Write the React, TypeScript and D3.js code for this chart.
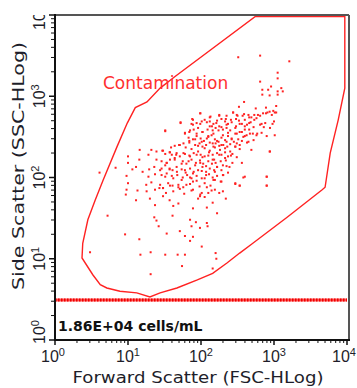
import React from 'react';
import * as d3 from 'd3';

const W = 357;
const H = 388;

// gated events as [log10 FSC, log10 SSC]
const events: [number, number][] = [
  [2.59, 2.93], [2.52, 2.87], [2.75, 2.85], [2.89, 2.86], [3.03, 2.88], [2.99, 2.82], [1.99, 2.79], [2.13, 2.75],
  [2.25, 2.77], [2.35, 2.76], [2.44, 2.8], [2.49, 2.77], [2.57, 2.76], [2.65, 2.77], [2.69, 2.74], [2.78, 2.77],
  [2.85, 2.79], [2.91, 2.8], [2.97, 2.77], [3.03, 2.8], [1.72, 2.68], [1.88, 2.72], [1.87, 2.66], [1.94, 2.67],
  [2.01, 2.69], [2.05, 2.71], [2.12, 2.69], [2.17, 2.66], [2.22, 2.7], [2.28, 2.72], [2.33, 2.69], [2.37, 2.66],
  [2.41, 2.71], [2.48, 2.72], [2.52, 2.7], [2.56, 2.66], [2.6, 2.71], [2.63, 2.65], [2.68, 2.68], [2.73, 2.71],
  [2.76, 2.73], [2.83, 2.66], [2.86, 2.62], [2.945, 2.61], [3.0, 2.69], [1.51, 2.57], [1.78, 2.54], [1.84, 2.56],
  [1.9, 2.59], [1.96, 2.61], [2.02, 2.56], [2.09, 2.59], [2.12, 2.63], [2.16, 2.58], [2.2, 2.61], [2.25, 2.63],
  [2.3, 2.59], [2.35, 2.61], [2.4, 2.58], [2.47, 2.61], [2.49, 2.54], [2.56, 2.56], [2.6, 2.59], [2.66, 2.59],
  [2.71, 2.54], [2.77, 2.54], [1.83, 2.49], [1.89, 2.47], [1.94, 2.51], [1.995, 2.48], [2.04, 2.45], [2.1, 2.5],
  [2.145, 2.52], [2.19, 2.47], [2.24, 2.44], [2.28, 2.49], [2.33, 2.46], [2.37, 2.51], [2.42, 2.48], [2.45, 2.44],
  [2.51, 2.47], [2.58, 2.5], [2.625, 2.52], [2.65, 2.44], [1.59, 2.37], [1.64, 2.39], [1.7, 2.4], [1.76, 2.42],
  [1.84, 2.43], [1.92, 2.4], [1.98, 2.42], [2.02, 2.38], [2.07, 2.4], [2.12, 2.43], [2.17, 2.38], [2.2, 2.42],
  [2.25, 2.39], [2.305, 2.4], [2.36, 2.38], [2.4, 2.41], [2.47, 2.38], [2.53, 2.4], [2.69, 2.34], [2.945, 2.32],
  [1.16, 2.34], [1.28, 2.28], [1.32, 2.34], [1.39, 2.32], [1.47, 2.33], [1.51, 2.29], [1.57, 2.31], [1.6, 2.28],
  [1.666, 2.3], [1.71, 2.26], [1.78, 2.29], [1.84, 2.27], [1.9, 2.3], [1.96, 2.32], [1.995, 2.28], [2.05, 2.26],
  [2.11, 2.31], [2.16, 2.28], [2.22, 2.3], [2.28, 2.28], [2.33, 2.31], [2.37, 2.26], [2.43, 2.29], [1.155, 2.22],
  [1.39, 2.22], [1.46, 2.2], [1.53, 2.18], [1.575, 2.22], [1.64, 2.24], [1.75, 2.2], [1.8, 2.17], [1.87, 2.22],
  [1.93, 2.18], [1.986, 2.21], [2.03, 2.17], [2.1, 2.2], [2.16, 2.22], [2.2, 2.18], [2.27, 2.2], [2.34, 2.21],
  [2.43, 2.18], [1.06, 2.1], [1.11, 2.13], [1.2, 2.07], [1.29, 2.1], [1.36, 2.13], [1.44, 2.09], [1.51, 2.15],
  [1.57, 2.11], [1.61, 2.09], [1.666, 2.13], [1.735, 2.1], [1.79, 2.06], [1.85, 2.11], [1.9, 2.07], [1.96, 2.09],
  [2.02, 2.13], [2.07, 2.07], [2.12, 2.11], [2.18, 2.09], [2.22, 2.13], [2.28, 2.09], [2.35, 2.14], [1.28, 2.01],
  [1.37, 2.04], [1.46, 2.03], [1.53, 2.05], [1.6, 2.02], [1.675, 2.03], [1.75, 2.0], [1.81, 2.03], [1.87, 1.99],
  [1.94, 2.02], [2.01, 1.99], [2.07, 2.03], [2.16, 2.0], [2.22, 2.02], [2.305, 2.03], [2.58, 2.0], [2.9, 2.01],
  [1.25, 1.91], [1.32, 1.94], [1.43, 1.87], [1.48, 1.87], [1.55, 1.93], [1.61, 1.9], [1.69, 1.91], [1.757, 1.88],
  [1.85, 1.92], [1.89, 1.95], [1.98, 1.89], [2.05, 1.93], [2.13, 1.9], [2.19, 1.97], [2.28, 1.95], [2.47, 1.92],
  [2.53, 1.9], [2.9, 1.9], [1.13, 1.84], [1.255, 1.83], [1.37, 1.85], [1.52, 1.81], [1.62, 1.83], [1.71, 1.86],
  [1.77, 1.8], [1.87, 1.84], [2.01, 1.81], [2.145, 1.84], [2.25, 1.81], [1.11, 1.72], [1.3, 1.74], [1.48, 1.77],
  [1.57, 1.72], [1.986, 1.77], [2.05, 1.76], [2.16, 1.69], [2.34, 1.74], [1.37, 1.66], [1.62, 1.65], [1.69, 1.68],
  [1.89, 1.62], [2.08, 1.63], [2.22, 1.56], [1.36, 1.51], [1.39, 1.47], [1.61, 1.53], [1.85, 1.48], [1.93, 1.45],
  [2.08, 1.44], [2.09, 1.4], [1.42, 1.4], [1.53, 1.31], [1.71, 1.34], [1.87, 1.4], [1.986, 1.38], [1.155, 1.24],
  [1.78, 1.28], [1.89, 1.27], [1.85, 1.22], [2.01, 1.15],
  // dense core
  [1.99, 2.79], [2.12, 2.74], [2.25, 2.76], [2.34, 2.72], [2.44, 2.8], [2.5, 2.76], [2.59, 2.78], [2.66, 2.74],
  [2.73, 2.77], [2.81, 2.76], [2.89, 2.79], [2.94, 2.81], [3.01, 2.8], [1.72, 2.67], [1.89, 2.71], [1.89, 2.65],
  [1.99, 2.66], [2.08, 2.68], [2.15, 2.63], [2.21, 2.67], [2.28, 2.62], [2.35, 2.65], [2.42, 2.68], [2.48, 2.63],
  [2.53, 2.66], [2.6, 2.63], [2.66, 2.67], [2.72, 2.62], [2.81, 2.65], [2.88, 2.67], [2.98, 2.66], [1.51, 2.58],
  [1.78, 2.55], [1.85, 2.58], [1.94, 2.54], [2.02, 2.56], [2.1, 2.51], [2.17, 2.54], [2.24, 2.58], [2.3, 2.52],
  [2.37, 2.55], [2.47, 2.54], [2.53, 2.56], [2.6, 2.51], [2.67, 2.54], [2.76, 2.52], [2.83, 2.55], [2.9, 2.51],
  [3.01, 2.52], [1.84, 2.45], [1.92, 2.47], [2.01, 2.44], [2.08, 2.48], [2.16, 2.42], [2.22, 2.45], [2.28, 2.4],
  [2.35, 2.44], [2.42, 2.47], [2.49, 2.42], [2.56, 2.45], [2.63, 2.43], [2.72, 2.46], [1.71, 2.4], [1.79, 2.37],
  [1.87, 2.35], [1.96, 2.39], [2.05, 2.36], [2.12, 2.33], [2.19, 2.37], [2.26, 2.34], [2.33, 2.36], [2.4, 2.32],
  [2.47, 2.38], [2.53, 2.35], [2.94, 2.32], [1.48, 2.33], [1.575, 2.31], [1.66, 2.28], [1.76, 2.3], [1.85, 2.26],
  [1.94, 2.28], [2.02, 2.25], [2.1, 2.27], [2.18, 2.22], [2.25, 2.28], [2.33, 2.24], [2.41, 2.27], [2.49, 2.25],
  [1.53, 2.18], [1.64, 2.22], [1.735, 2.17], [1.83, 2.2], [1.92, 2.15], [1.99, 2.18], [2.07, 2.14], [2.15, 2.17],
  [2.22, 2.13], [2.3, 2.15], [2.39, 2.13], [2.56, 2.18], [1.46, 2.11], [1.57, 2.1], [1.67, 2.07], [1.78, 2.09],
  [1.89, 2.05], [2.01, 2.08], [2.11, 2.04], [2.19, 2.07], [2.3, 2.03], [2.37, 2.06], [2.9, 2.01], [1.51, 2.01],
  [1.62, 1.99], [1.735, 1.97], [1.85, 2.0], [1.94, 1.96], [2.05, 1.99], [2.17, 1.97], [2.27, 1.95], [2.47, 1.93],
  [2.6, 2.01], [1.44, 1.91], [1.575, 1.9], [1.69, 1.88], [1.8, 1.91], [1.89, 1.85], [2.08, 1.88], [2.19, 1.85],
  [2.3, 1.83], [2.53, 1.9], [2.9, 1.9], [1.48, 1.87], [1.99, 1.79], [2.1, 1.81], [1.96, 1.74],
  // lower left
  [0.61, 2.06], [0.83, 2.12], [1.0, 2.26], [1.0, 2.18], [0.98, 2.02], [1.0, 1.93], [0.98, 1.85], [0.97, 1.79],
  [0.72, 1.53], [0.96, 1.3], [0.48, 1.08], [1.31, 1.08], [1.17, 1.05], [1.51, 1.05], [1.68, 1.05], [1.78, 1.05],
  [1.74, 0.91], [1.31, 0.81], [2.2, 1.07], [2.21, 1.0], [2.16, 0.88],
  // upper right
  [2.51, 3.48], [2.81, 3.5], [3.21, 3.43], [3.05, 3.29], [3.05, 3.22], [2.81, 3.18], [2.96, 3.12], [2.84, 3.08],
  [2.92, 3.08], [3.1, 3.1], [3.05, 3.06], [3.12, 3.06], [2.84, 3.02], [2.94, 3.01], [3.05, 3.02],
];

// gate outline, [log10 FSC, log10 SSC]
const gate: [number, number][] = [
  [2.74, 3.98], [3.97, 3.98], [3.97, 3.1], [3.88, 2.71], [3.77, 2.3], [3.7, 1.88], [3.66, 1.85], [3.18, 1.51],
  [2.71, 1.19], [2.53, 1.07], [2.36, 0.95], [2.16, 0.82], [1.95, 0.74], [1.67, 0.64], [1.44, 0.58], [1.3, 0.53],
  [1.12, 0.58], [0.89, 0.6], [0.71, 0.64], [0.62, 0.68], [0.52, 0.8], [0.37, 1.01], [0.38, 1.19], [0.45, 1.48],
  [0.55, 1.72], [0.66, 1.97], [0.85, 2.38], [0.99, 2.67], [1.1, 2.86], [1.26, 2.93], [1.44, 3.1], [1.64, 3.24],
];

const decades = [0, 1, 2, 3, 4];
const threshold = 3.1;
const gateName = 'Contamination';
const countLabel = '1.86E+04 cells/mL';
const xTitle = 'Forward Scatter (FSC-HLog)';
const yTitle = 'Side Scatter (SSC-HLog)';

const RED = '#ff2222';
const INK = '#1e1e2a';

export default function App() {
  const x = d3.scaleLog().domain([1, 1e4]).range([55, 347]);
  const y = d3.scaleLog().domain([1, 1e4]).range([340, 15]);

  const minor = d3.range(0, 4).flatMap(k => d3.range(2, 10).map(m => m * Math.pow(10, k)));

  const gatePath = d3.line<[number, number]>()
    .x(d => x(Math.pow(10, d[0])))
    .y(d => y(Math.pow(10, d[1])))
    .curve(d3.curveLinearClosed)(gate) || '';

  const left = x(1);
  const bottom = y(1);
  const top = y(1e4);
  const right = x(1e4) + 2;

  return (
    <svg width={W} height={H} style={{ position: 'absolute', left: 0, top: 0, background: '#fff' }}>
      <defs>
        <clipPath id="ylab">
          <rect x={0} y={15} width={60} height={H} />
        </clipPath>
      </defs>

      {/* events */}
      {events.map((d, i) => (
        <rect key={i} x={x(Math.pow(10, d[0])) - 1} y={y(Math.pow(10, d[1])) - 1}
          width={2} height={2} fill={RED} />
      ))}

      {/* gate */}
      <path d={gatePath} fill="none" stroke={RED} strokeWidth={1.4} />
      <text x={103} y={89} fontFamily="DejaVu Sans" fontSize={17} fill="#ff3030">{gateName}</text>

      {/* threshold */}
      <line x1={left} x2={x(1e4)} y1={y(threshold)} y2={y(threshold)} stroke="#ff5555" strokeWidth={3} />
      <line x1={left} x2={x(1e4)} y1={y(threshold)} y2={y(threshold)} stroke="#ee0000" strokeWidth={3} strokeDasharray="1.5,1.5" />

      <text x={58} y={331} fontFamily="DejaVu Sans" fontWeight="bold" fontSize={14} fill="#111">{countLabel}</text>

      {/* frame */}
      <line x1={left} x2={right} y1={top} y2={top} stroke="#555" strokeWidth={2} />
      <line x1={right} x2={right} y1={top} y2={bottom} stroke="#555" strokeWidth={2} />
      <line x1={left} x2={left} y1={top - 1} y2={bottom + 1} stroke="#111" strokeWidth={2} />
      <line x1={left - 1} x2={right + 1} y1={bottom} y2={bottom} stroke="#111" strokeWidth={2} />

      {/* x ticks */}
      {minor.map(v => (
        <line key={'xm' + v} x1={x(v)} x2={x(v)} y1={bottom} y2={bottom + 3} stroke="#111" strokeWidth={1} />
      ))}
      {decades.map(k => (
        <line key={'xM' + k} x1={x(Math.pow(10, k))} x2={x(Math.pow(10, k))} y1={bottom} y2={bottom + 5} stroke="#111" strokeWidth={1.5} />
      ))}
      {decades.map(k => (
        <text key={'xl' + k} x={x(Math.pow(10, k)) - (k === 0 ? 2 : k === 4 ? 3 : 0)} y={362} textAnchor="middle"
          fontFamily="Liberation Sans" fontSize={16} fill={INK}>
          10<tspan fontSize={11} dy={-6}>{k}</tspan>
        </text>
      ))}

      {/* y ticks */}
      {minor.map(v => (
        <line key={'ym' + v} x1={left} x2={left - 4} y1={y(v)} y2={y(v)} stroke="#111" strokeWidth={1} />
      ))}
      {decades.map(k => (
        <line key={'yM' + k} x1={left} x2={left - 6} y1={y(Math.pow(10, k))} y2={y(Math.pow(10, k))} stroke="#111" strokeWidth={1.5} />
      ))}
      <g clipPath="url(#ylab)">
        {decades.map(k => {
          const cy = y(Math.pow(10, k)) + (k === 0 ? -8 : k === 4 ? 3 : 0);
          return (
            <text key={'yl' + k} transform={`translate(45,${cy}) rotate(-90)`} textAnchor="middle"
              fontFamily="Liberation Sans" fontSize={16} fill={INK}>
              10<tspan fontSize={11} dy={-6}>{k}</tspan>
            </text>
          );
        })}
      </g>

      {/* axis titles */}
      <text x={198} y={383} textAnchor="middle" fontFamily="DejaVu Sans" fontSize={16}
        textLength={251} lengthAdjust="spacingAndGlyphs" fill={INK}>{xTitle}</text>
      <text transform="translate(24,166) rotate(-90)" textAnchor="middle" fontFamily="DejaVu Sans" fontSize={16}
        textLength={248} lengthAdjust="spacingAndGlyphs" fill={INK}>{yTitle}</text>
    </svg>
  );
}
